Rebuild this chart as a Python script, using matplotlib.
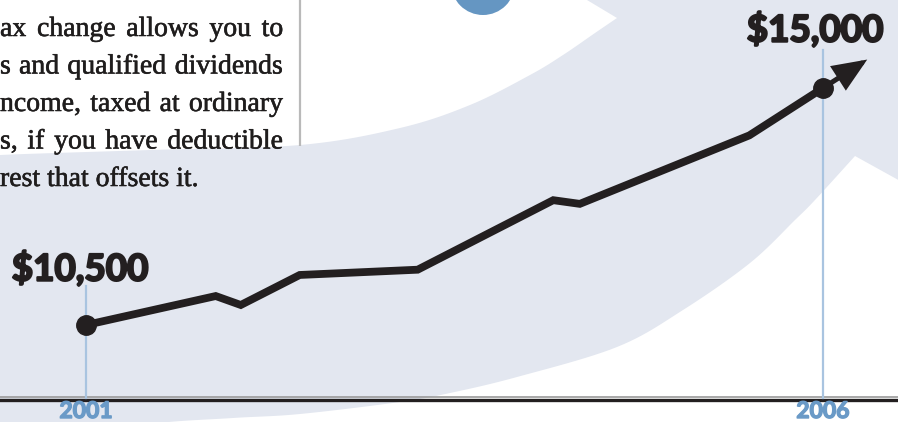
import numpy as np
import matplotlib
matplotlib.use("Agg")
import matplotlib.pyplot as plt
from matplotlib.patches import Polygon, Circle
import matplotlib.transforms as mtransforms
import matplotlib.patheffects as pe

# ---------------- data ----------------
years = [2001.0, 2001.88, 2002.05, 2002.45, 2003.25, 2004.17, 2004.35, 2005.5, 2006.0]
values = [10500, 11050, 10880, 11450, 11550, 12870, 12800, 14100, 15000]
start_label = "$10,500"
end_label = "$15,000"
year_ticks = [2001, 2006]
year_labels = ["2001", "2006"]
text_lines = [
    "ax change allows you to",
    "s and qualified dividends",
    "ncome, taxed at ordinary",
    "s, if you have deductible",
    "rest that offsets it.",
]

# ---------------- style ----------------
W, H = 898, 422
LIGHT = "#e3e7f0"
INK = "#231f20"
BLUE_TXT = "#6a9ac7"
BLUE_LINE = "#a9c4e0"

fig = plt.figure(figsize=(W / 100, H / 100), dpi=100)
fig.patch.set_facecolor("white")

# background (pixel) axes for decorations
bg = fig.add_axes([0, 0, 1, 1])
bg.set_xlim(0, W)
bg.set_ylim(H, 0)
bg.axis("off")


def catmull(points, n=12):
    p = np.array(points, dtype=float)
    p = np.vstack([p[0], p, p[-1]])
    out = []
    for i in range(1, len(p) - 2):
        p0, p1, p2, p3 = p[i - 1], p[i], p[i + 1], p[i + 2]
        for t in np.linspace(0, 1, n, endpoint=False):
            t2, t3 = t * t, t * t * t
            out.append(0.5 * ((2 * p1) + (-p0 + p2) * t +
                              (2 * p0 - 5 * p1 + 4 * p2 - p3) * t2 +
                              (-p0 + 3 * p1 - 3 * p2 + p3) * t3))
    out.append(p[-2])
    return np.array(out)


upper = catmull([(-20, 158), (0, 155), (150, 150), (300, 145), (400, 128),
                 (470, 105), (530, 75), (563, 55), (595, 33), (617, 18)])
lower = catmull([(855, 156), (815, 200), (795, 220), (750, 263), (683, 310),
                 (617, 347), (517, 377), (450, 393), (400, 402), (300, 414),
                 (233, 418), (150, 424), (60, 440)])
shape = np.vstack([upper, [(587, 0), (560, -20), (940, -20), (940, 203)],
                   lower, [(-20, 440)]])
bg.add_patch(Polygon(shape, closed=True, facecolor=LIGHT, edgecolor="none", zorder=1))

# blue circle at top
bg.add_patch(Circle((483, -17), 32, facecolor="#6596c2", edgecolor="none", zorder=2))

# vertical separator
bg.plot([300, 300], [0, 146], color="#b9b9b9", lw=1.6, zorder=2, solid_capstyle="butt")

# baseline
bg.plot([0, W], [397, 397], color="#9a9a9a", lw=1.2, zorder=3)
bg.plot([0, W], [399.6, 399.6], color=INK, lw=2.4, zorder=3)

# text block, justified
fig.canvas.draw()
r = fig.canvas.get_renderer()
right_edge = 283
base0, gap_y = 36, 37.5
tkw = dict(fontsize=20, family="Liberation Serif", color="#1f1d1d",
           va="baseline", ha="left", zorder=4,
           path_effects=[pe.withStroke(linewidth=0.4, foreground="#1f1d1d")])
for i, line in enumerate(text_lines):
    y = base0 + i * gap_y
    if i == len(text_lines) - 1:
        bg.text(0, y, line, **tkw)
        continue
    words = line.split()
    ts = [bg.text(0, y, w, **tkw) for w in words]
    widths = [t.get_window_extent(r).width for t in ts]
    g = (right_edge - sum(widths)) / (len(words) - 1)
    x = 0
    for t, w in zip(ts, widths):
        t.set_x(x)
        x += w + g

# ---------------- data axes ----------------
ax = fig.add_axes([0, 0, 1, 1])
ax.patch.set_alpha(0)
px_per_year = (823 - 86) / 5
ax.set_xlim(2001 - 86 / px_per_year, 2001 + (W - 86) / px_per_year)
px_per_dollar = (325 - 88) / 4500
ax.set_ylim(10500 - (H - 325) / px_per_dollar, 10500 + 325 / px_per_dollar)
ax.axis("off")

base_frac = (H - 398) / H
ax.axvline(year_ticks[0], ymin=base_frac, ymax=(H - 286) / H, color=BLUE_LINE, lw=1.6, zorder=2)
ax.axvline(year_ticks[1], ymin=base_frac, ymax=(H - 50) / H, color=BLUE_LINE, lw=1.6, zorder=2)

ax.plot(years, values, color=INK, lw=5.6, solid_joinstyle="miter",
        solid_capstyle="butt", zorder=5)
ax.plot([years[0], years[-1]], [values[0], values[-1]], "o", color=INK, ms=14, zorder=6)

tip = (years[-1] + (years[-1] - years[-2]) * 0.6,
       values[-1] + (values[-1] - values[-2]) * 0.6)
ax.annotate("", xy=tip, xytext=(years[-1], values[-1]),
            arrowprops=dict(arrowstyle="-|>,head_length=0.62,head_width=0.26",
                            mutation_scale=30, lw=3.6, color=INK,
                            shrinkA=0, shrinkB=0, joinstyle="miter"),
            zorder=6)

lkw = dict(textcoords="offset pixels", ha="center", va="center", fontsize=26.5,
           fontweight="bold", family="Lato", color=INK, zorder=7,
           path_effects=[pe.withStroke(linewidth=1.6, foreground=INK)])
ax.annotate(start_label, (years[0], values[0]), xytext=(-6, 56), **lkw)
ax.annotate(end_label, (years[-1], values[-1]), xytext=(-8, 58), **lkw)

trans = mtransforms.blended_transform_factory(ax.transData, ax.transAxes)
for yr, lab in zip(year_ticks, year_labels):
    ax.text(yr, (H - 418) / H, lab, transform=trans, ha="center", va="baseline",
            fontsize=16.5, fontweight="bold", family="Lato", color=BLUE_TXT, zorder=7,
            path_effects=[pe.withStroke(linewidth=1.0, foreground=BLUE_TXT)])

fig.savefig("out.png", dpi=100, facecolor="white")
